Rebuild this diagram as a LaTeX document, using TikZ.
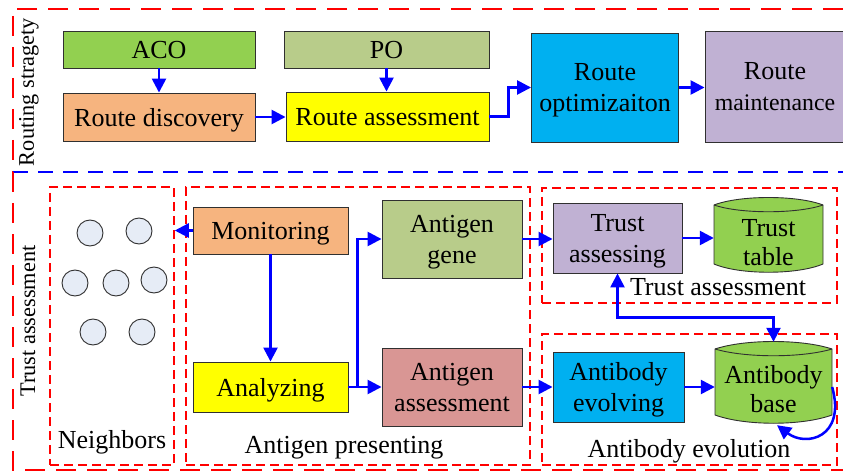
\documentclass[tikz,border=0pt]{standalone}
\usepackage{fontspec}
\setmainfont{Liberation Serif}
\newfontfamily\tnr{Liberation Serif}
\usetikzlibrary{arrows.meta}

\definecolor{arrblue}{RGB}{0,0,255}
\definecolor{dashred}{RGB}{255,0,0}
\definecolor{cgreen}{HTML}{92D050}
\definecolor{colive}{HTML}{B8CC8A}
\definecolor{corange}{HTML}{F6B47F}
\definecolor{cyellow}{HTML}{FFFF00}
\definecolor{ccyan}{HTML}{00B0F0}
\definecolor{clilac}{HTML}{C0B1D3}
\definecolor{cpink}{HTML}{D99694}
\definecolor{cnode}{HTML}{E6ECF6}
\definecolor{cedge}{HTML}{303030}

\tikzset{
  box/.style={draw=cedge, line width=0.9pt, rectangle, align=center,
    inner sep=0pt, text depth=0pt, font=\tnr\fontsize{26}{31}\selectfont},
  arr/.style={draw=arrblue, line width=2.5pt,
    -{Triangle[length=14pt,width=14pt]}},
  darr/.style={draw=arrblue, line width=2.5pt,
    {Triangle[length=14pt,width=14pt]}-{Triangle[length=14pt,width=14pt]}},
  bigred/.style={draw=dashred, line width=2.6pt, dash pattern=on 20pt off 11pt},
  bigblue/.style={draw=arrblue, line width=2.6pt, dash pattern=on 15pt off 10pt},
  group/.style={draw=dashred, line width=1.5pt, dash pattern=on 9pt off 5pt,
    rectangle, inner sep=0pt},
  lbl/.style={font=\tnr\fontsize{26}{31}\selectfont, inner sep=0pt},
  side/.style={font=\tnr\fontsize{22.3}{25}\selectfont, inner sep=0pt, rotate=90},
  nbr/.style={circle, draw=cedge, line width=0.9pt, fill=cnode,
    minimum size=26pt, inner sep=0pt},
  drum/.style={rectangle, inner sep=0pt},
  dbtext/.style={rectangle, inner sep=0pt, align=center, text depth=0pt,
    font=\tnr\fontsize{26}{28.5}\selectfont},
  dbline/.style={draw=cedge, line width=0.9pt},
}

\begin{document}
\begin{tikzpicture}[x=1pt,y=-1pt]
\useasboundingbox (0,0) rectangle (843,473);

% ---------- section frames ----------
\draw[bigred] (843,9) -- (13,9) -- (13,172);
\draw[bigblue] (13,172) -- (843,172);
\draw[bigred] (13,172) -- (13,470) -- (843,470);

\node[side] (lrs) at (29,92) {Routing stragety};
\node[side] (lta) at (28,321) {Trust assessment};

% ---------- routing strategy ----------
\node[box, fill=cgreen, minimum width=192pt, minimum height=37pt] (aco) at (159,49.5) {ACO};
\node[box, fill=colive, minimum width=205pt, minimum height=37pt] (po) at (386.5,49.5) {PO};
\node[box, fill=corange, minimum width=192pt, minimum height=48pt] (rd) at (159,117) {Route discovery};
\node[box, fill=cyellow, minimum width=203pt, minimum height=49pt] (ra) at (387.5,116.5) {Route assessment};
\node[box, fill=ccyan, minimum width=147pt, minimum height=109pt] (ro) at (605,87.5) {Route\\optimizaiton};
\node[box, fill=clilac, minimum width=140pt, minimum height=111pt] (rm) at (775,86.5)
  {Route\\{\fontsize{23.8}{31}\selectfont maintenance}};

\draw[arr] (aco.south) -- (aco.south |- rd.north);
\draw[arr] (po.south) -- (po.south |- ra.north);
\draw[arr] (rd.east) -- (rd.east -| ra.west);
\draw[arr] (ra.east) -- ++(19,0) |- (ro.west);
\draw[arr] (ro.east) -- (ro.east -| rm.west);

% ---------- trust assessment: groups ----------
\node[group, minimum width=124pt, minimum height=278pt] (gnb) at (112,326) {};
\node[group, minimum width=344pt, minimum height=278pt] (gap) at (358,326) {};
\node[group, minimum width=295pt, minimum height=115pt] (gta) at (689.5,245.5) {};
\node[group, minimum width=295pt, minimum height=131pt] (gae) at (689.5,399.5) {};

\node[lbl, anchor=base] (tnb) at (112,448) {Neighbors};
\node[lbl, anchor=base] (tap) at (344,453) {Antigen presenting};
\node[lbl, anchor=base] (tta) at (718,295) {Trust assessment};
\node[lbl, anchor=base] (tae) at (689,457) {Antibody evolution};

% neighbouring nodes
\node[nbr] (n1) at (90,233) {};
\node[nbr] (n2) at (139,231) {};
\node[nbr] (n3) at (75,283) {};
\node[nbr] (n4) at (116,283) {};
\node[nbr] (n5) at (154,280) {};
\node[nbr] (n6) at (93,332) {};
\node[nbr] (n7) at (142,332) {};

% antigen presenting
\node[box, fill=corange, minimum width=155pt, minimum height=47pt] (mon) at (270.5,230.5) {Monitoring};
\node[box, fill=cyellow, minimum width=155pt, minimum height=50pt] (ana) at (270.5,387) {Analyzing};
\node[box, fill=colive, minimum width=140pt, minimum height=78pt] (ag) at (452,239) {Antigen\\gene};
\node[box, fill=cpink, minimum width=140pt, minimum height=78pt] (aa) at (452,387) {Antigen\\assessment};

% trust assessment / antibody evolution
\node[box, fill=clilac, minimum width=129pt, minimum height=70pt] (ta) at (617.5,238) {Trust\\assessing};
\node[box, fill=ccyan, minimum width=131pt, minimum height=70pt] (ae) at (618.5,387) {Antibody\\evolving};

% drum-shaped stores: outline extent, body and top rim, then the caption
\node[drum, minimum width=109pt, minimum height=76pt] (tt) at (768.5,235) {};
\filldraw[dbline, fill=cgreen]
  (714,205) -- (714,264) .. controls (740,275) and (797,275) .. (823,264)
  -- (823,205) .. controls (797,195) and (740,195) .. (714,205) -- cycle;
\draw[dbline] (714,205) .. controls (740,214) and (797,214) .. (823,205);
\node[dbtext] (tttext) at (768.5,242.5) {Trust\\table};

\node[drum, minimum width=117pt, minimum height=81pt] (ab) at (773.5,382.5) {};
\filldraw[dbline, fill=cgreen]
  (715,349) -- (715,415) .. controls (745,426) and (802,426) .. (832,415)
  -- (832,349) .. controls (802,339) and (745,339) .. (715,349) -- cycle;
\draw[dbline] (715,349) .. controls (745,358) and (802,358) .. (832,349);
\node[dbtext] (abtext) at (773.5,389) {Antibody\\base};

% ---------- flows ----------
\draw[arr] (mon.west) -- (mon.west -| gnb.east);
\draw[arr] (mon.south) -- (ana.north);
\draw[arr] (ana.east) -- (aa.west);
\draw[arr] (ana.east) -- ++(9,0) |- (ag.west);
\draw[arr] (ag.east) -- (ag.east -| ta.west);
\draw[arr] (ta.east) -- (ta.east -| tt.west);
\draw[arr] (aa.east) -- (aa.east -| ae.west);
\draw[arr] (ae.east) -- (ae.east -| ab.west);
\draw[darr] (ta.south) -- ++(0,44) -| (ab.north);
\draw[arr] ([yshift=-4.5pt]ab.east) .. controls (846,438) and (806,447) .. ([xshift=3.5pt,yshift=-2pt]ab.south);

\end{tikzpicture}
\end{document}
